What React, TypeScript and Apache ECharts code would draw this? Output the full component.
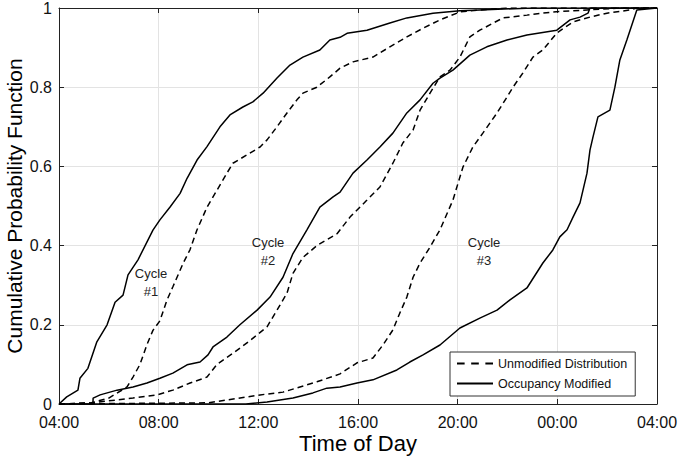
import React, { useEffect, useRef } from "react";
import * as echarts from "echarts";

const xTicks = ["04:00", "08:00", "12:00", "16:00", "20:00", "00:00", "04:00"];

const s1Hours = [4, 4.31, 4.76, 4.84, 5.16, 5.52, 5.93, 6.25, 6.57, 6.77, 7.17, 7.77, 8.05, 8.45, 8.86, 9.14, 9.54, 9.94, 10.46, 10.86, 11.38, 11.78, 12.19, 12.75, 13.27, 13.79, 14.47, 14.87, 15.28, 15.56, 16.36, 17.28, 17.96, 19.01, 20.09, 20.89, 23, 28];
const s1Vals = [0, 0.018, 0.035, 0.065, 0.09, 0.157, 0.2, 0.257, 0.275, 0.326, 0.364, 0.439, 0.465, 0.497, 0.532, 0.57, 0.616, 0.65, 0.7, 0.73, 0.75, 0.763, 0.785, 0.823, 0.856, 0.876, 0.894, 0.919, 0.926, 0.936, 0.944, 0.962, 0.975, 0.987, 0.993, 0.995, 1, 1];

const d1Hours = [4, 5.3, 6.0, 6.73, 6.97, 7.25, 7.53, 7.77, 8.05, 8.33, 8.57, 8.98, 9.26, 9.54, 9.66, 9.94, 10.34, 10.74, 10.98, 11.54, 12.07, 12.35, 12.75, 13.15, 13.55, 13.79, 14.35, 14.87, 15.28, 15.8, 16.6, 17.28, 17.96, 18.61, 19.29, 20.09, 20.89, 22, 28];
const d1Vals = [0, 0.003, 0.015, 0.043, 0.068, 0.1, 0.15, 0.186, 0.21, 0.262, 0.296, 0.355, 0.39, 0.44, 0.457, 0.497, 0.54, 0.583, 0.608, 0.629, 0.649, 0.667, 0.7, 0.735, 0.768, 0.785, 0.8, 0.826, 0.848, 0.864, 0.876, 0.902, 0.927, 0.949, 0.97, 0.99, 0.995, 1, 1];

const s2Hours = [4, 5.36, 5.37, 5.65, 6.33, 6.97, 7.53, 8.05, 8.57, 9.14, 9.66, 9.98, 10.18, 10.74, 11.26, 11.95, 12.47, 12.99, 13.39, 13.95, 14.47, 15.0, 15.28, 15.8, 16.36, 16.88, 17.4, 17.96, 18.49, 19.01, 19.29, 19.81, 20.49, 21.17, 21.98, 22.78, 23.98, 24.51, 24.91, 25.23, 25.31, 28];
const s2Vals = [0, 0, 0.015, 0.023, 0.035, 0.043, 0.053, 0.065, 0.078, 0.099, 0.106, 0.124, 0.144, 0.169, 0.2, 0.237, 0.27, 0.32, 0.38, 0.44, 0.497, 0.523, 0.535, 0.583, 0.616, 0.649, 0.684, 0.735, 0.768, 0.81, 0.823, 0.843, 0.881, 0.902, 0.919, 0.932, 0.944, 0.97, 0.977, 0.987, 1, 1];

const d2Hours = [4, 5.3, 6.97, 7.93, 8.57, 9.26, 9.94, 10.34, 10.98, 11.66, 12.35, 12.75, 13.15, 13.39, 13.79, 14.35, 15.16, 15.68, 16.36, 16.88, 17.4, 17.8, 18.21, 18.49, 18.89, 19.29, 19.69, 20.09, 20.49, 20.89, 21.82, 22.78, 23.82, 25.19, 26.5, 28];
const d2Vals = [0, 0.003, 0.015, 0.023, 0.035, 0.053, 0.068, 0.1, 0.128, 0.16, 0.195, 0.237, 0.28, 0.33, 0.37, 0.4, 0.43, 0.472, 0.515, 0.548, 0.608, 0.659, 0.692, 0.742, 0.785, 0.826, 0.843, 0.876, 0.927, 0.944, 0.975, 0.982, 0.99, 0.995, 1, 1];

const d3Hours = [4, 10, 12.07, 12.99, 13.67, 14.35, 15.28, 15.96, 16.6, 17.0, 17.4, 17.68, 17.96, 18.21, 18.49, 18.89, 19.29, 19.81, 20.21, 20.61, 21.01, 21.58, 21.98, 22.22, 22.62, 23.02, 23.42, 23.98, 24.63, 25.31, 25.99, 26.91, 27.19, 28];
const d3Vals = [0, 0.003, 0.023, 0.03, 0.043, 0.056, 0.076, 0.104, 0.116, 0.149, 0.187, 0.23, 0.27, 0.32, 0.356, 0.396, 0.44, 0.515, 0.598, 0.649, 0.684, 0.735, 0.775, 0.8, 0.836, 0.876, 0.894, 0.937, 0.965, 0.977, 0.987, 0.995, 1, 1];

const s3Hours = [4, 11.5, 12.35, 13.39, 14.19, 14.75, 15.28, 15.96, 16.6, 17.56, 18.08, 18.61, 19.29, 20.09, 20.89, 21.58, 22.1, 22.78, 23.42, 23.82, 24.1, 24.39, 24.63, 24.91, 25.19, 25.31, 25.43, 25.63, 26.11, 26.31, 26.51, 26.79, 27.19, 28];
const s3Vals = [0, 0, 0.005, 0.015, 0.028, 0.04, 0.043, 0.053, 0.061, 0.086, 0.106, 0.124, 0.149, 0.192, 0.217, 0.237, 0.263, 0.293, 0.356, 0.389, 0.422, 0.44, 0.472, 0.508, 0.583, 0.641, 0.674, 0.725, 0.742, 0.8, 0.869, 0.919, 0.995, 1];

const cycleLabels = ["Cycle\n#1", "Cycle\n#2", "Cycle\n#3"];

const DASHED = "Unmodified Distribution";
const SOLID = "Occupancy Modified";
const FONT = "Liberation Sans, Arial, sans-serif";

const zip = (h: number[], v: number[]) => h.map((x, i) => [x, v[i]]);

export default function App() {
  const ref = useRef<HTMLDivElement>(null);
  useEffect(() => {
    if (!ref.current) return;
    const chart = echarts.init(ref.current, null, { renderer: "svg" });
    const mk = (name: string, h: number[], v: number[], dashed: boolean) => ({
      name,
      type: "line",
      data: zip(h, v),
      symbol: "none",
      lineStyle: { color: "#000", width: 1.5, type: dashed ? [6, 4] : "solid" },
      itemStyle: { color: "#000" },
      z: dashed ? 3 : 4,
    });
    const tickLabel = (val: number) => {
      const idx = Math.round((val - 4) / 4);
      return xTicks[idx] ?? "";
    };
    const labelPos = [
      [151, 264],
      [268, 233],
      [484, 233],
    ];
    chart.setOption({
      animation: false,
      backgroundColor: "#fff",
      textStyle: { fontFamily: FONT },
      grid: { left: 59, right: 21, top: 8, bottom: 55, containLabel: false, outerBoundsMode: "none" },
      legend: {
        data: [
          { name: DASHED, icon: "path://M0,0h7v2h-7z M13,0h7v2h-7z M26,0h7v2h-7z" },
          { name: SOLID, icon: "path://M0,0h40v2h-40z" },
        ],
        orient: "vertical",
        left: 450,
        top: 352,
        width: 185,
        itemWidth: 36,
        itemHeight: 14,
        itemGap: 7,
        padding: [5, 8, 6, 7],
        borderColor: "#333",
        borderWidth: 1,
        backgroundColor: "#fff",
        itemStyle: { color: "#000", borderWidth: 0 },
        textStyle: { fontFamily: FONT, fontSize: 12.5, color: "#111" },
      },
      xAxis: [
        {
          type: "value",
          min: 4,
          max: 28,
          interval: 4,
          name: "Time of Day",
          nameLocation: "middle",
          nameGap: 28,
          nameMoveOverlap: false,
          nameTextStyle: { fontSize: 22, color: "#000", fontFamily: FONT },
          axisLine: { show: true, lineStyle: { color: "#222", width: 1 } },
          axisTick: { show: true, inside: true, length: 5, lineStyle: { color: "#222" } },
          axisLabel: { formatter: tickLabel, fontSize: 16, color: "#111", margin: 10, fontFamily: FONT },
          splitLine: { show: true, lineStyle: { color: "#e3e3e3", width: 1 } },
        },
        {
          type: "value",
          position: "top",
          min: 4,
          max: 28,
          interval: 4,
          axisLine: { show: true, onZero: false, lineStyle: { color: "#222", width: 1 } },
          axisTick: { show: true, inside: true, length: 5, lineStyle: { color: "#222" } },
          axisLabel: { show: false },
          splitLine: { show: false },
        },
      ],
      yAxis: [
        {
          type: "value",
          min: 0,
          max: 1,
          interval: 0.2,
          name: "Cumulative Probability Function",
          nameLocation: "middle",
          nameGap: 34,
          nameMoveOverlap: false,
          nameTextStyle: { fontSize: 21, color: "#000", fontFamily: FONT },
          axisLine: { show: true, lineStyle: { color: "#222", width: 1 } },
          axisTick: { show: true, inside: true, length: 5, lineStyle: { color: "#222" } },
          axisLabel: { fontSize: 16, color: "#111", margin: 7, fontFamily: FONT },
          splitLine: { show: true, lineStyle: { color: "#e3e3e3", width: 1 } },
        },
        {
          type: "value",
          position: "right",
          min: 0,
          max: 1,
          interval: 0.2,
          axisLine: { show: true, onZero: false, lineStyle: { color: "#222", width: 1 } },
          axisTick: { show: true, inside: true, length: 5, lineStyle: { color: "#222" } },
          axisLabel: { show: false },
          splitLine: { show: false },
        },
      ],
      graphic: cycleLabels.map((t, i) => ({
        type: "text",
        x: labelPos[i][0],
        y: labelPos[i][1],
        z: 10,
        style: {
          text: t,
          font: `13px ${FONT}`,
          lineHeight: 18,
          fill: "#222",
          textAlign: "center",
          textVerticalAlign: "top",
        },
      })),
      series: [
        mk(DASHED, d1Hours, d1Vals, true),
        mk(DASHED, d2Hours, d2Vals, true),
        mk(DASHED, d3Hours, d3Vals, true),
        mk(SOLID, s1Hours, s1Vals, false),
        mk(SOLID, s2Hours, s2Vals, false),
        mk(SOLID, s3Hours, s3Vals, false),
      ],
    });
    return () => chart.dispose();
  }, []);
  return <div ref={ref} style={{ position: "fixed", left: 0, top: 0, width: 678, height: 459 }} />;
}
